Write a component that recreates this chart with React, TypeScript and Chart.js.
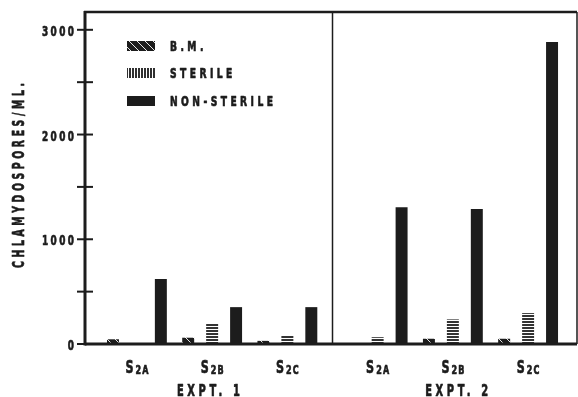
import React, { useEffect, useRef } from "react";
import { Chart, registerables } from "chart.js";

Chart.register(...registerables);

const categoryLabels = ["S2A", "S2B", "S2C", "S2A", "S2B", "S2C"];
const groupPositions = [1, 2, 3, 4.2, 5.2, 6.2];
const experimentLabels = ["EXPT. 1", "EXPT. 2"];
const experimentCenters = [1.95, 5.25];
const seriesLabels = ["B.M.", "STERILE", "NON-STERILE"];
const bmValues = [45, 60, 30, 0, 50, 50];
const sterileValues = [0, 200, 86, 65, 235, 295];
const nonSterileValues = [620, 352, 352, 1305, 1288, 2884];
const yTickValues = [0, 500, 1000, 1500, 2000, 2500, 3000];
const yLabeledEvery = 1000;
const yTitle = "CHLAMYDOSPORES/ML.";

const INK = "#1c1c1c";
const FAM = "'DejaVu Sans', sans-serif";

function makePattern(kind: string): CanvasPattern | string {
  const c = document.createElement("canvas");
  const g = c.getContext("2d");
  if (!g) return INK;
  if (kind === "diag") {
    c.width = 8; c.height = 8;
    g.fillStyle = INK; g.fillRect(0, 0, 8, 8);
    g.strokeStyle = "#ffffff"; g.lineWidth = 0.9;
    for (const off of [-8, 0, 8]) {
      g.beginPath(); g.moveTo(off, 0); g.lineTo(off + 8, 8); g.stroke();
    }
  } else if (kind === "hstripe") {
    c.width = 4; c.height = 3;
    g.fillStyle = "#ffffff"; g.fillRect(0, 0, 4, 3);
    g.fillStyle = "#333333"; g.fillRect(0, 0, 4, 2);
  } else {
    c.width = 3; c.height = 4;
    g.fillStyle = "#ffffff"; g.fillRect(0, 0, 3, 4);
    g.fillStyle = "#303030"; g.fillRect(0, 0, 2, 4);
  }
  return g.createPattern(c, "repeat") || INK;
}

function naturalWidth(ctx: any, text: string, size: number) {
  ctx.save();
  ctx.letterSpacing = "0px";
  ctx.font = `bold ${size}px ${FAM}`;
  const w = ctx.measureText(text).width;
  ctx.restore();
  return w;
}

function fitSpacing(ctx: any, text: string, size: number, sx: number, target: number) {
  const n = text.length;
  if (n < 2) return 0;
  return Math.max(0, (target - naturalWidth(ctx, text, size) * sx) / (n - 1));
}

function drawSpaced(ctx: any, text: string, x: number, y: number, size: number, sx: number, spacing: number, align: string) {
  const natural = naturalWidth(ctx, text, size);
  const total = natural * sx + spacing * (text.length - 1);
  const left = align === "center" ? x - total / 2 : align === "right" ? x - total : x;
  ctx.save();
  ctx.font = `bold ${size}px ${FAM}`;
  ctx.textAlign = "left";
  ctx.textBaseline = "alphabetic";
  ctx.translate(left, y);
  ctx.scale(sx, 1);
  ctx.letterSpacing = `${spacing / sx}px`;
  ctx.fillText(text, 0, 0);
  ctx.strokeStyle = ctx.fillStyle;
  ctx.lineWidth = 0.7;
  ctx.lineJoin = "round";
  ctx.strokeText(text, 0, 0);
  ctx.restore();
  return total;
}

export default function App() {
  const ref = useRef<HTMLCanvasElement | null>(null);
  useEffect(() => {
    if (!ref.current) return;
    const bmPat = makePattern("diag");
    const stPat = makePattern("hstripe");
    const stLegendPat = makePattern("vstripe");
    const legendFills = [bmPat, stLegendPat, INK];

    const toPts = (vals: number[]) => groupPositions.map((x, i) => ({ x, y: vals[i] }));

    const decor = {
      id: "decor",
      beforeDraw(chart: any) {
        const { ctx, width, height } = chart;
        ctx.save();
        ctx.fillStyle = "#ffffff";
        ctx.fillRect(0, 0, width, height);
        ctx.restore();
      },
      afterDraw(chart: any) {
        const { ctx, chartArea: a, scales } = chart;
        const x = scales.x, y = scales.y;
        const y0 = y.getPixelForValue(0);
        ctx.save();
        ctx.strokeStyle = INK;
        ctx.lineCap = "butt";
        ctx.lineWidth = 2.5;
        ctx.beginPath(); ctx.moveTo(a.left - 1, a.top); ctx.lineTo(a.right, a.top); ctx.stroke();
        ctx.lineWidth = 1.5;
        ctx.beginPath(); ctx.moveTo(a.right, a.top); ctx.lineTo(a.right, y0); ctx.stroke();
        const d = x.getPixelForValue((groupPositions[2] + groupPositions[3]) / 2);
        ctx.beginPath(); ctx.moveTo(d, a.top); ctx.lineTo(d, y0); ctx.stroke();
        ctx.lineWidth = 3;
        ctx.beginPath(); ctx.moveTo(a.left, a.top - 1); ctx.lineTo(a.left, y0 + 1.5); ctx.stroke();
        ctx.beginPath(); ctx.moveTo(a.left, y0); ctx.lineTo(a.right, y0); ctx.stroke();
        ctx.lineWidth = 2;
        y.ticks.forEach((t: any) => {
          const py = y.getPixelForValue(t.value);
          ctx.beginPath();
          ctx.moveTo(a.left - 8, py);
          ctx.lineTo(t.value === 0 ? a.left : a.left + 8, py);
          ctx.stroke();
        });

        ctx.fillStyle = INK;
        const tickSize = 13.5, tickSx = 0.66;
        const tickSp = fitSpacing(ctx, "3000", tickSize, tickSx, 32);
        y.ticks.forEach((t: any) => {
          if (t.value % yLabeledEvery !== 0) return;
          const py = y.getPixelForValue(t.value);
          drawSpaced(ctx, String(t.value), 74, py + 6, tickSize, tickSx, tickSp, "right");
        });

        ctx.save();
        const tSize = 15, tSx = 0.62;
        ctx.translate(18.5, 175.5);
        ctx.rotate(-Math.PI / 2);
        const tSp = fitSpacing(ctx, yTitle, tSize, tSx, 185);
        drawSpaced(ctx, yTitle, 0, tSize * 0.73 / 2, tSize, tSx, tSp, "center");
        ctx.restore();

        categoryLabels.forEach((lab, i) => {
          const px = x.getPixelForValue(groupPositions[i]);
          const main = lab.slice(0, 1);
          const sub = lab.slice(1);
          const mSize = 18, mSx = 0.62;
          const sSize = 11.5, sSx = 0.7;
          const wm = naturalWidth(ctx, main, mSize) * mSx;
          const sSp = fitSpacing(ctx, "2A", sSize, sSx, 13);
          const ws = naturalWidth(ctx, sub, sSize) * sSx + sSp * (sub.length - 1);
          const start = px - (wm + 2 + ws) / 2;
          drawSpaced(ctx, main, start, 373, mSize, mSx, 0, "left");
          drawSpaced(ctx, sub, start + wm + 2, 374, sSize, sSx, sSp, "left");
        });

        const eSize = 16, eSx = 0.62;
        const eSp = fitSpacing(ctx, experimentLabels[0], eSize, eSx, 63);
        experimentLabels.forEach((lab, i) => {
          const px = x.getPixelForValue(experimentCenters[i]);
          drawSpaced(ctx, lab, px, 396, eSize, eSx, eSp, "center");
        });

        const baselines = [51, 78, 106];
        const lSize = 13.5, lSx = 0.68;
        const lSp = fitSpacing(ctx, seriesLabels[2], lSize, lSx, 103);
        chart.data.datasets.forEach((ds: any, i: number) => {
          const cy = baselines[i] - 5;
          ctx.fillStyle = legendFills[i];
          ctx.fillRect(127, cy - 5, 28, 10);
          ctx.fillStyle = INK;
          drawSpaced(ctx, ds.label, 170, baselines[i], lSize, lSx, lSp, "left");
        });
        ctx.restore();
      },
    };

    const chart = new Chart(ref.current, {
      type: "bar",
      data: {
        datasets: [
          { label: seriesLabels[0], data: toPts(bmValues), backgroundColor: bmPat as any, borderWidth: 0 },
          { label: seriesLabels[1], data: toPts(sterileValues), backgroundColor: stPat as any, borderWidth: 0 },
          { label: seriesLabels[2], data: toPts(nonSterileValues), backgroundColor: INK, borderWidth: 0 },
        ],
      },
      options: {
        animation: false,
        responsive: true,
        maintainAspectRatio: false,
        layout: { padding: { left: 0, right: 1, top: 12, bottom: 0 } },
        datasets: { bar: { categoryPercentage: 0.955, barPercentage: 0.5 } },
        plugins: { legend: { display: false }, tooltip: { enabled: false } },
        scales: {
          x: {
            type: "linear",
            min: 0.31,
            max: 6.85,
            offset: false,
            grid: { display: false },
            border: { display: false },
            ticks: { display: false },
            afterBuildTicks: (s: any) => { s.ticks = groupPositions.map((v) => ({ value: v })); },
            afterFit: (s: any) => { s.height = 53; },
          },
          y: {
            min: 0,
            max: 3170,
            grid: { display: false, drawTicks: false },
            border: { display: false },
            ticks: { display: false },
            afterBuildTicks: (s: any) => { s.ticks = yTickValues.map((v) => ({ value: v })); },
            afterFit: (s: any) => { s.width = 85; },
          },
        },
      },
      plugins: [decor],
    });
    return () => chart.destroy();
  }, []);

  return (
    <div style={{ position: "fixed", left: 0, top: 0, width: 578, height: 397, background: "#fff" }}>
      <canvas ref={ref} />
    </div>
  );
}
